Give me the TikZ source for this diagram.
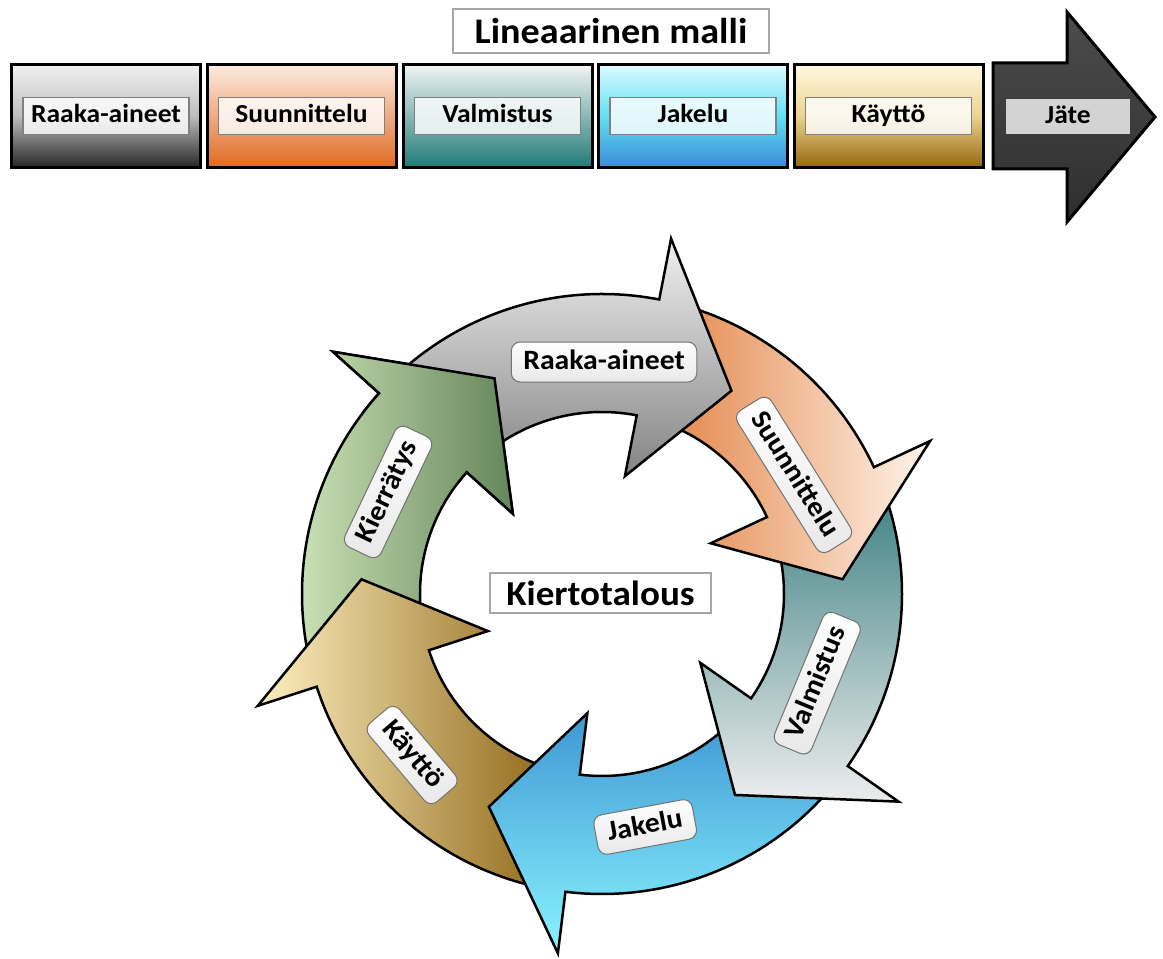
\documentclass[tikz,border=0pt]{standalone}
\usepackage{fontspec}
\setmainfont{Carlito}[FakeStretch=1.06]
\definecolor{b1t}{HTML}{F2F2F2}\definecolor{b1m}{HTML}{BDBDBD}\definecolor{b1b}{HTML}{262626}
\definecolor{b2t}{HTML}{FDECE2}\definecolor{b2b}{HTML}{E06A22}
\definecolor{b3t}{HTML}{F2F4F4}\definecolor{b3b}{HTML}{1F7B78}
\definecolor{b4t}{HTML}{DDFBFF}\definecolor{b4m}{HTML}{62E0F4}\definecolor{b4b}{HTML}{3A8BD5}
\definecolor{b5t}{HTML}{FFF8E2}\definecolor{b5m}{HTML}{EDD38F}\definecolor{b5b}{HTML}{93660E}
\definecolor{jt}{HTML}{4C4C4C}\definecolor{jb}{HTML}{2E2E2E}\definecolor{jl}{HTML}{D3D3D3}
\definecolor{gyT}{HTML}{F0F0F0}\definecolor{gyB}{HTML}{848484}
\definecolor{orL}{HTML}{E2803F}\definecolor{orR}{HTML}{FFF4EC}
\definecolor{tlT}{HTML}{3C8082}\definecolor{tlB}{HTML}{EDEDED}
\definecolor{cyT}{HTML}{3D95D2}\definecolor{cyM}{HTML}{5CD2F0}\definecolor{cyB}{HTML}{8AF4FF}
\definecolor{ylL}{HTML}{FFF0C2}\definecolor{ylM}{HTML}{E8CC82}\definecolor{ylR}{HTML}{8A6210}
\definecolor{gnL}{HTML}{D0E6B9}\definecolor{gnR}{HTML}{64855A}
\tikzset{
  lbox/.style={draw=black, line width=3pt, minimum width=189pt, minimum height=103pt, inner sep=0pt},
  llabel/.style={draw=black!50, line width=1.2pt, fill=white, fill opacity=0.82, text opacity=1,
    minimum width=166pt, minimum height=37pt, inner sep=0pt, text height=18pt, text depth=4pt,
    font=\fontsize{26}{28}\selectfont\bfseries},
  titlebox/.style={draw=black!35, line width=1.5pt, fill=white, inner sep=0pt},
  carrow/.style={draw=black, line width=2.5pt, line join=miter, miter limit=20},
  clabel/.style={draw=black!55, line width=1pt, rounded corners=9pt, top color=white, bottom color=black!9,
    inner xsep=12pt, inner ysep=0pt, minimum height=40pt, text height=19pt, text depth=5pt,
    font=\fontsize{28}{30}\selectfont\bfseries}
}
\begin{document}
\begin{tikzpicture}[x=1pt,y=1pt]
\useasboundingbox (0,0) rectangle (1163,959);
% ---------- linear model ----------
\node[titlebox, minimum width=316pt, minimum height=44pt, font=\fontsize{36}{40}\selectfont\bfseries] (ltitle) at (611,928) {Lineaarinen malli};
\node[lbox, top color=b1t, bottom color=b1b, middle color=b1m] (l1) at (106,843) {};
\node[lbox, top color=b2t, bottom color=b2b] (l2) at (301.5,843) {};
\node[lbox, top color=b3t, bottom color=b3b] (l3) at (497.5,843) {};
\node[lbox, top color=b4t, bottom color=b4b, middle color=b4m] (l4) at (693,843) {};
\node[lbox, top color=b5t, bottom color=b5b, middle color=b5m] (l5) at (888.5,843) {};
\node[llabel] (t1) at (l1) {Raaka-aineet};
\node[llabel] (t2) at (l2) {Suunnittelu};
\node[llabel] (t3) at (l3) {Valmistus};
\node[llabel] (t4) at (l4) {Jakelu};
\node[llabel] (t5) at (l5) {Käyttö};
\draw[line width=3pt, line join=miter, top color=jt, bottom color=jb]
  (993,896) -- (1067,896) -- (1067,947) -- (1155,842) -- (1067,737) -- (1067,790) -- (993,790) -- cycle;
\node[fill=jl, minimum width=124pt, minimum height=35pt, inner sep=0pt, text height=18pt, text depth=4pt, font=\fontsize{26}{28}\selectfont\bfseries] (t6) at (1068,842.5) {Jäte};
% ---------- circular model ----------
\begin{scope}[shift={(602,365)}]
% green (Kierrätys)
\path[carrow, left color=gnL, right color=gnR] (194:300) arc[start angle=194,end angle=138,radius=300] -- (138:362) -- (116.5:241) -- (138:120) -- (138:182) arc[start angle=138,end angle=194,radius=182] -- cycle;
% yellow (Käyttö)
\path[carrow, left color=ylL, middle color=ylM, right color=ylR] (-101:300) arc[start angle=-101,end angle=-162,radius=300] -- (-162:362) -- (-183.5:241) -- (-162:120) -- (-162:182) arc[start angle=-162,end angle=-101,radius=182] -- cycle;
% cyan (Jakelu)
\path[carrow, top color=cyT, middle color=cyM, bottom color=cyB] (-39:300) arc[start angle=-39,end angle=-97,radius=300] -- (-97:362) -- (-118:241) -- (-97:120) -- (-97:182) arc[start angle=-97,end angle=-39,radius=182] -- cycle;
% teal (Valmistus)
\path[carrow, top color=tlT, bottom color=tlB] (21:300) arc[start angle=21,end angle=-35,radius=300] -- (-35:362) -- (-56.5:241) -- (-35:120) -- (-35:182) arc[start angle=-35,end angle=21,radius=182] -- cycle;
% orange (Suunnittelu)
\path[carrow, left color=orL, right color=orR] (75:300) arc[start angle=75,end angle=25,radius=300] -- (25:362) -- (3.5:241) -- (25:120) -- (25:182) arc[start angle=25,end angle=75,radius=182] -- cycle;
% grey (Raaka-aineet)
\path[carrow, top color=gyT, bottom color=gyB] (134:300) arc[start angle=134,end angle=79,radius=300] -- (79:362) -- (57.5:241) -- (79:120) -- (79:182) arc[start angle=79,end angle=134,radius=182] -- cycle;
% green head on top of grey tail
\begin{scope}
\clip (0,0) -- (143:430) arc[start angle=143,end angle=104,radius=430] -- cycle;
\path[carrow, left color=gnL, right color=gnR] (194:300) arc[start angle=194,end angle=138,radius=300] -- (138:362) -- (116.5:241) -- (138:120) -- (138:182) arc[start angle=138,end angle=194,radius=182] -- cycle;
\end{scope}
\node[clabel] (c1) at (89.5:232) {Raaka-aineet};
\node[clabel, rotate=-58] (c2) at (31.8:226) {Suunnittelu};
\node[clabel, rotate=67.5] (c3) at (-22.5:233) {Valmistus};
\node[clabel, rotate=10.5] (c4) at (-79.5:237) {Jakelu};
\node[clabel, rotate=-49.7] (c5) at (220.3:249) {Käyttö};
\node[clabel, rotate=64.5] (c6) at (154.5:237) {Kierrätys};
\node[titlebox, minimum width=221pt, minimum height=40pt, font=\fontsize{35}{38}\selectfont\bfseries] (ctitle) at (-1.5,1) {Kiertotalous};
\end{scope}
\end{tikzpicture}
\end{document}
